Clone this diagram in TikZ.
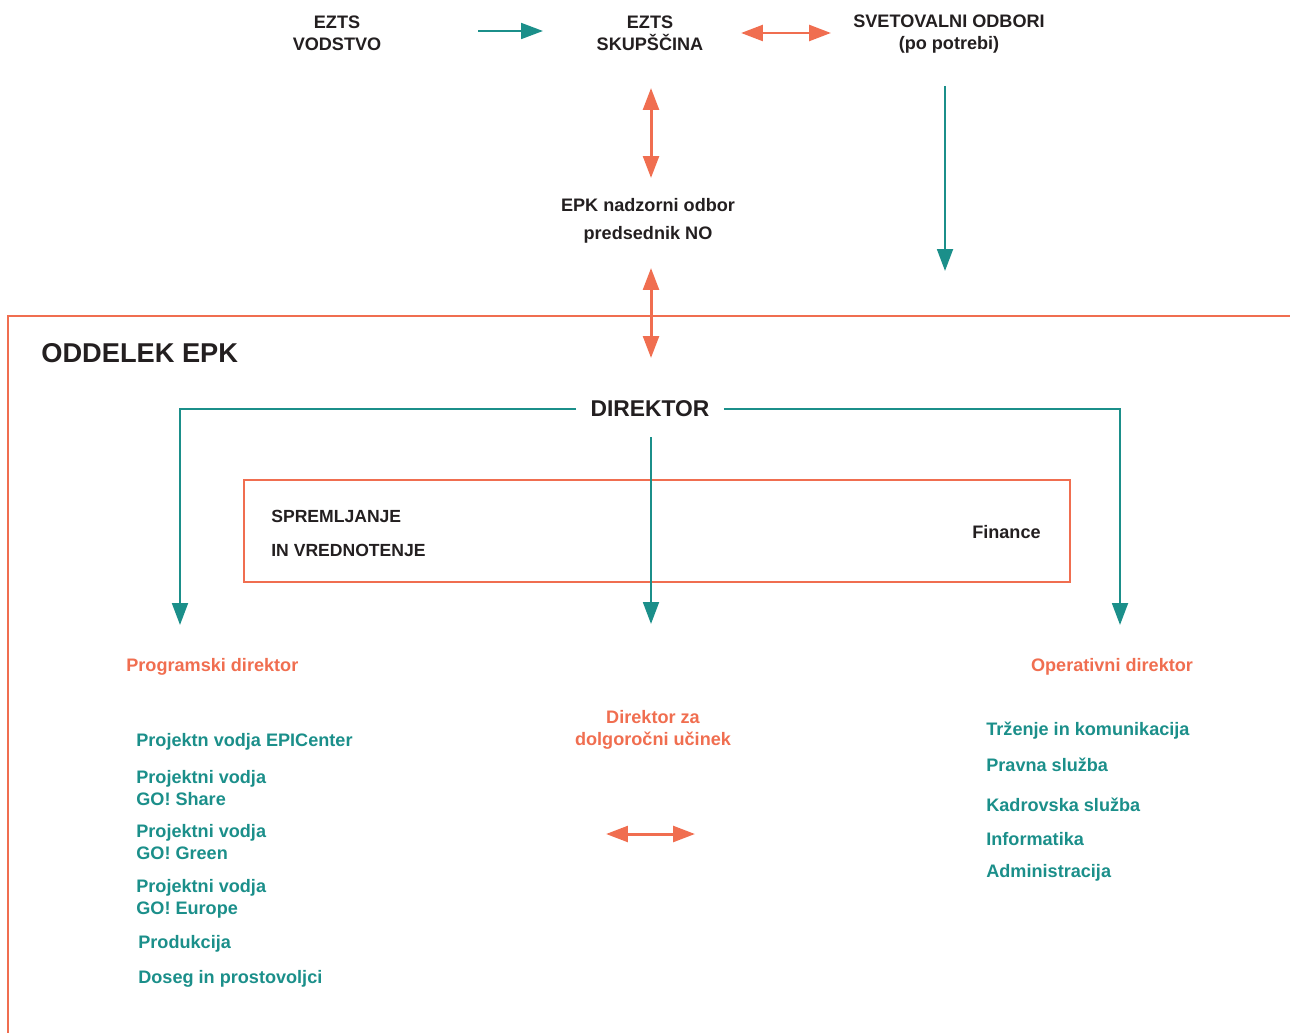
\documentclass[tikz,border=0pt]{standalone}
\usepackage{fontspec}
\setmainfont{Liberation Sans}
\usetikzlibrary{arrows.meta, positioning}
\definecolor{epkteal}{HTML}{1B8F8A}
\definecolor{epkcoral}{HTML}{F06E50}
\definecolor{epkdark}{HTML}{231F20}

\begin{document}
\begin{tikzpicture}[x=0.02cm, y=-0.02cm, >={Triangle[length=12.5pt, width=9pt]},
  every node/.style={inner sep=0pt},
  head/.style={font=\fontsize{10.3}{12.5}\selectfont\bfseries, text=epkdark, align=center},
  role/.style={font=\fontsize{10.3}{12.5}\selectfont\bfseries, text=epkcoral},
  item/.style={font=\fontsize{10.3}{12.5}\selectfont\bfseries, text=epkteal, anchor=west, align=left},
  tealline/.style={epkteal, line width=1.4pt},
  coralline/.style={epkcoral, line width=1.7pt},
  frame/.style={epkcoral, line width=0.8pt}]

\useasboundingbox (0,0) rectangle (1290,1033);

% Top row
\node[head] (vodstvo) at (337,33) {EZTS\\VODSTVO};
\node[head] (skupscina) at (650,33) {EZTS\\SKUPŠČINA};
\node[head] (svetovalni) at (949,34) {SVETOVALNI ODBORI\\(po potrebi)};

% Supervisory board
\node[head, font=\fontsize{10.3}{16}\selectfont\bfseries] (nadzorni) at (648,221) {EPK nadzorni odbor\\predsednik NO};

% Department frame
\draw[frame] (1290,316) -- (8,316) -- (8,1033);
\node[font=\fontsize{15.5}{18}\selectfont\bfseries, text=epkdark, anchor=west] (oddelek) at (41,353) {ODDELEK EPK};
\node[font=\fontsize{13}{15}\selectfont\bfseries, text=epkdark, inner xsep=8pt] (direktor) at (650,409) {DIREKTOR};

% Monitoring box
\draw[frame] (244,480) rectangle (1070,582);
\node[font=\fontsize{10}{19.3}\selectfont\bfseries, text=epkdark, anchor=west, align=left] (spremljanje) at (271,533) {SPREMLJANJE\\IN VREDNOTENJE};
\node[font=\fontsize{10.3}{12.5}\selectfont\bfseries, text=epkdark, anchor=east] (finance) at (1041,532) {Finance};

% Branch heads
\node[role, anchor=west] (progdir) at (126,667) {Programski direktor};
\node[role] (opdir) at (1112,667) {Operativni direktor};
\node[role, align=center] (dolgdir) at (653,730) {Direktor za\\dolgoročni učinek};

% Programme list
\node[item] (epicenter) at (136,742) {Projektn vodja EPICenter};
\node[item] (goshare) at (136,788) {Projektni vodja\\GO! Share};
\node[item] (gogreen) at (136,842) {Projektni vodja\\GO! Green};
\node[item] (goeurope) at (136,899) {Projektni vodja\\GO! Europe};
\node[item] (produkcija) at (138,944) {Produkcija};
\node[item] (doseg) at (138,979) {Doseg in prostovoljci};

% Operations list
\node[item] (trzenje) at (986,731) {Trženje in komunikacija};
\node[item] (pravna) at (986,765) {Pravna služba};
\node[item] (kadrovska) at (986,805) {Kadrovska služba};
\node[item] (informatika) at (986,839) {Informatika};
\node[item] (admin) at (986,873) {Administracija};

% Arrow ends
\coordinate (vodR) at (478,31);
\coordinate (skuL) at (543,31);
\coordinate (skuR) at (741,33);
\coordinate (svetL) at (831,33);
\coordinate (skuB) at (651,88);
\coordinate (nadT) at (651,178);
\coordinate (nadB) at (651,268);
\coordinate (dirT) at (651,358);
\coordinate (svetB) at (945,86);
\coordinate (svetTip) at (945,271);
\coordinate (progTip) at (180,625);
\coordinate (opTip) at (1120,625);
\coordinate (dirStem) at (651,437);
\coordinate (dolgTip) at (651,624);
\coordinate (dolgL) at (606,834);
\coordinate (dolgR) at (695,834);

% Top links
\draw[tealline, ->] (vodR) -- (skuL);
\draw[coralline, <->] (skuR) -- (svetL);
\draw[coralline, <->] (skuB) -- (nadT);
\draw[coralline, <->] (nadB) -- (dirT);
\draw[tealline, ->] (svetB) -- (svetTip);

% Director branches
\draw[tealline, ->] (direktor.west) -| (progTip);
\draw[tealline, ->] (direktor.east) -| (opTip);
\draw[tealline, ->] (dirStem) -- (dolgTip);
\draw[coralline, <->] (dolgL) -- (dolgR);

\end{tikzpicture}
\end{document}
